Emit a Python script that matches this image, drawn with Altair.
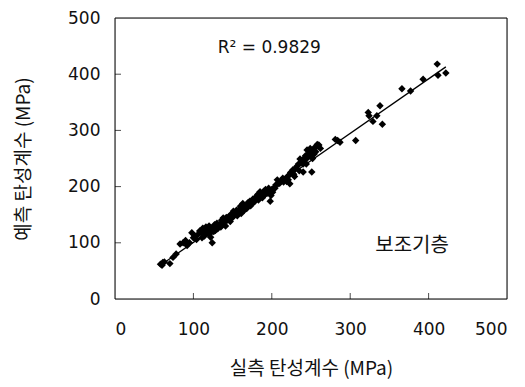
import altair as alt
import pandas as pd

# measured (x) and predicted (y) resilient modulus, MPa
meas = [58, 60, 61, 63, 70, 74, 78, 83, 87, 90, 92, 95, 98, 100, 102, 104, 106, 108, 110, 111,
        112, 114, 115, 116, 118, 119, 120, 121, 122, 123, 124, 125, 126, 127, 128, 129, 130, 131,
        132, 134, 135, 136, 137, 138, 139, 140, 141, 142, 143, 145, 146, 147, 148, 150, 151, 152,
        154, 155, 156, 158, 159, 160, 161, 163, 164, 165, 166, 168, 169, 170, 172, 173, 175, 176,
        178, 180, 181, 182, 183, 185, 186, 187, 188, 190, 191, 192, 194, 195, 196, 198, 199, 200,
        201, 203, 204, 205, 207, 208, 210, 212, 214, 215, 217, 219, 220, 221, 222, 223, 224, 226,
        227, 228, 229, 230, 232, 234, 235, 236, 237, 238, 240, 240, 241, 242, 243, 244, 245, 246,
        247, 248, 249, 250, 251, 252, 253, 254, 255, 256, 258, 259, 260, 262, 281, 284, 287, 307,
        323, 324, 329, 334, 338, 341, 366, 377, 393, 411, 412, 422]
pred = [62, 60, 65, 66, 63, 74, 80, 98, 100, 104, 95, 100, 118, 109, 112, 106, 115, 121, 118, 109,
        126, 112, 120, 128, 117, 123, 130, 116, 110, 125, 100, 126, 120, 132, 122, 128, 135, 125,
        130, 133, 128, 140, 132, 144, 136, 138, 130, 145, 140, 142, 148, 138, 150, 145, 156, 150,
        152, 158, 148, 155, 160, 165, 152, 170, 162, 158, 165, 161, 168, 172, 174, 166, 170, 178,
        173, 182, 179, 186, 176, 191, 183, 188, 180, 192, 185, 195, 188, 190, 197, 174, 184, 195,
        190, 198, 197, 203, 212, 205, 206, 210, 215, 208, 213, 209, 218, 212, 220, 205, 225, 226,
        230, 222, 218, 232, 236, 240, 228, 249, 242, 245, 226, 240, 250, 246, 255, 240, 265, 252,
        258, 255, 268, 262, 226, 250, 265, 258, 270, 262, 275, 272, 274, 268, 284, 282, 279, 282,
        332, 326, 316, 326, 344, 311, 374, 370, 391, 418, 398, 402]

line_x = [58, 422]
line_y = [60, 413]

tick_vals = [100, 200, 300, 400]
axis_vals = [0, 100, 200, 300, 400, 500]

r2_label = ["R² = 0.9829"]
r2_pos = [(131, 446)]
layer_label = ["보조기층"]
layer_pos = [(332, 95)]

W, H = 392, 281
FONT = "DejaVu Sans"
KFONT = "Noto Sans CJK KR"

pts = pd.DataFrame({"x": meas, "y": pred})
ln = pd.DataFrame({"x": line_x, "y": line_y})
tk = pd.DataFrame({"v": tick_vals})
txt = pd.DataFrame({"x": [r2_pos[0][0]], "y": [r2_pos[0][1]], "t": r2_label})
txt2 = pd.DataFrame({"x": [layer_pos[0][0]], "y": [layer_pos[0][1]], "t": layer_label})

xs = alt.Scale(domain=[0, 500], nice=False)
ys = alt.Scale(domain=[0, 500], nice=False)

xax = alt.Axis(values=axis_vals, tickSize=0, labelPadding=22, labelFontSize=17,
               labelFont=FONT, labelColor="#111", domain=False, grid=False,
               title="실측 탄성계수 (MPa)", titleFont=KFONT, titleFontSize=19,
               titleFontWeight="normal", titlePadding=22, titleColor="#111")
yax = alt.Axis(values=axis_vals, tickSize=0, labelPadding=15, labelFontSize=17,
               labelFont=FONT, labelColor="#111", domain=False, grid=False,
               title="예측 탄성계수 (MPa)", titleFont=KFONT, titleFontSize=19,
               titleFontWeight="normal", titlePadding=34, titleColor="#111")

frame = alt.Chart(pd.DataFrame({"v": [0]})).mark_rect(
    fill=None, stroke="black", strokeWidth=1).encode(
    x=alt.value(0), x2=alt.value(W), y=alt.value(0), y2=alt.value(H))

points = alt.Chart(pts).mark_point(shape="diamond", filled=True, color="black",
                                   size=55, opacity=1).encode(
    x=alt.X("x:Q", scale=xs, axis=xax),
    y=alt.Y("y:Q", scale=ys, axis=yax),
)

line = alt.Chart(ln).mark_line(color="black", strokeWidth=1.3).encode(
    x=alt.X("x:Q", scale=xs), y=alt.Y("y:Q", scale=ys))

xticks = alt.Chart(tk).mark_tick(color="black", orient="vertical", size=6,
                                 thickness=1).encode(
    x=alt.X("v:Q", scale=xs), y=alt.value(H - 3))
yticks = alt.Chart(tk).mark_tick(color="black", orient="horizontal", size=6,
                                 thickness=1).encode(
    y=alt.Y("v:Q", scale=ys), x=alt.value(3))

t1 = alt.Chart(txt).mark_text(align="left", baseline="middle", fontSize=17,
                              font=FONT, color="#111").encode(
    x=alt.X("x:Q", scale=xs), y=alt.Y("y:Q", scale=ys), text="t:N")
t2 = alt.Chart(txt2).mark_text(align="left", baseline="middle", fontSize=20,
                               font=KFONT, color="#111").encode(
    x=alt.X("x:Q", scale=xs), y=alt.Y("y:Q", scale=ys), text="t:N")

chart = alt.layer(points, line, xticks, yticks, t1, t2, frame).properties(
    width=W, height=H,
    autosize=alt.AutoSizeParams(type="none"),
    padding={"left": 107, "top": 10, "right": 10, "bottom": 100},
).configure_view(stroke="black", strokeWidth=1).configure(background="white")

chart.save("out.html", embed_options={"renderer": "svg", "actions": False})
